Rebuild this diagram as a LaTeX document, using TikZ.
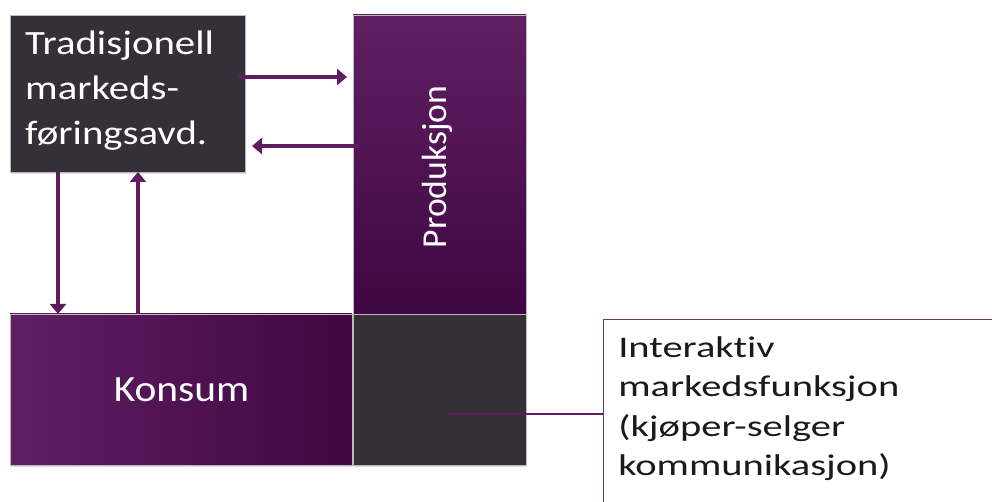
\documentclass[tikz,border=0pt]{standalone}
\usepackage{fontspec}
\setmainfont{Carlito}[Ligatures=NoCommon]
\usetikzlibrary{arrows.meta,calc,shadows}
\definecolor{darkbox}{HTML}{352F37}
\definecolor{purpA}{HTML}{601F62}
\definecolor{purpB}{HTML}{3F0742}
\definecolor{arrowc}{HTML}{5E1D60}
\definecolor{calloutline}{HTML}{6B3B6E}
\definecolor{ctext}{HTML}{1A1A1A}
\begin{document}
\begin{tikzpicture}[x=1pt,y=1pt,
  blk/.style={draw=gray!55, line width=0.6pt, inner sep=0pt, outer sep=0pt,
    drop shadow={shadow xshift=1pt, shadow yshift=-2pt, opacity=0.25}},
  arr/.style={draw=arrowc, line width=3.3pt, -{Triangle[width=16pt,length=10pt]}},
  wtxt/.style={text=white, inner sep=0pt, transform shape},
  ctxt/.style={text=ctext, inner sep=0pt, transform shape}]
\useasboundingbox (0,0) rectangle (992,502);
\fill[white] (0,0) rectangle (992,502);
% blocks
\node[blk, fill=darkbox, minimum width=235pt, minimum height=157pt] (trad) at (127.5,408.5) {};
\node[blk, top color=purpA, bottom color=purpB, minimum width=173pt, minimum height=299pt] (prod) at (439.5,337.5) {};
\node[blk, left color=purpA, right color=purpB, minimum width=342pt, minimum height=151pt] (kons) at (181,112.5) {};
\node[blk, fill=darkbox, minimum width=173pt, minimum height=151pt] (sq) at (439.5,112.5) {};
% texts
\node[wtxt, xscale=1.2, anchor=north west, align=left, font=\fontsize{34}{45}\selectfont] (tradtxt) at (25,471) {Tradisjonell\\markeds-\\føringsavd.};
\node[wtxt, rotate=90, xscale=1.02, anchor=base, font=\fontsize{35}{40}\selectfont] (prodtxt) at (446,335) {Produksjon};
\node[wtxt, xscale=1.12, font=\fontsize{37}{44}\selectfont] (konstxt) at (181.5,112) {Konsum};
% arrows
\draw[arr] ($(trad.north east)+(-7,-62)$) -- ($(prod.north west)+(-6,-62)$);
\draw[arr] ($(prod.north west)+(6,-131)$) -- ($(trad.north east)+(7,-131)$);
\draw[arr] ($(trad.south west)+(48,0)$) -- ($(kons.north west)+(48,0)$);
\draw[arr] ($(kons.north west)+(128,0)$) -- ($(trad.south west)+(128,0)$);
% callout
\node[draw=calloutline, line width=1.3pt, fill=white, minimum width=400pt, minimum height=193pt, inner sep=0pt, anchor=north west] (callout) at (603,183) {};
\coordinate (cstart) at ($(sq.center)+(8.5,-24.5)$);
\draw[draw=arrowc, line width=2pt] (cstart) -- (cstart -| callout.west);
\node[ctxt, xscale=1.35, anchor=north west, align=left, font=\fontsize{30}{39.5}\selectfont] (calltxt) at (618,166) {Interaktiv\\markedsfunksjon\\(kjøper-selger\\kommunikasjon)};
\end{tikzpicture}
\end{document}
